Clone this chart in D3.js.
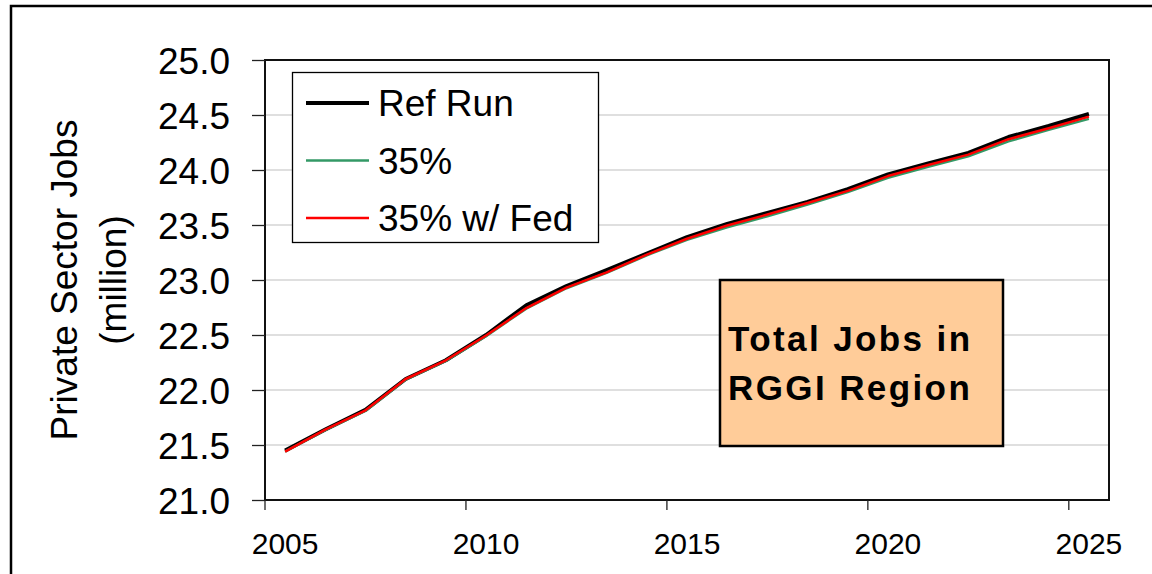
<!DOCTYPE html>
<html>
<head>
<meta charset="utf-8">
<script src="https://cdn.jsdelivr.net/npm/d3@7"></script>
<style>
  body { margin: 0; background: #fff; }
  svg { display: block; font-family: "Liberation Sans", Arial, sans-serif; }
</style>
</head>
<body>
<div id="app"></div>
<script>
// years on the category axis
const years = d3.range(2005, 2026);

// private sector jobs, million
const refRun = [21.45, 21.64, 21.82, 22.10, 22.27, 22.50, 22.77, 22.945, 23.09, 23.24, 23.39,
                23.51, 23.61, 23.71, 23.825, 23.96, 24.06, 24.155, 24.30, 24.40, 24.51];
const pct35 = [21.44, 21.635, 21.81, 22.095, 22.265, 22.49, 22.74, 22.925, 23.065, 23.225, 23.365,
               23.48, 23.58, 23.685, 23.80, 23.93, 24.03, 24.125, 24.26, 24.365, 24.465];
const pct35Fed = [21.44, 21.64, 21.815, 22.10, 22.27, 22.495, 22.745, 22.93, 23.07, 23.23, 23.375,
                  23.495, 23.595, 23.70, 23.81, 23.945, 24.045, 24.14, 24.28, 24.38, 24.485];

const yTicks = [21.0, 21.5, 22.0, 22.5, 23.0, 23.5, 24.0, 24.5, 25.0];
const xTickYears = [2005, 2010, 2015, 2020, 2025];

const series = [
  { name: 'Ref Run', values: refRun, color: '#000000', width: 4 },
  { name: '35%', values: pct35, color: '#339966', width: 2.5 },
  { name: '35% w/ Fed', values: pct35Fed, color: '#ff0000', width: 2.5 }
];

const W = 1152, H = 574;
const plot = { left: 265, right: 1109, top: 60, bottom: 500 };

const svg = d3.create('svg').attr('width', W).attr('height', H);

// outer chart border
svg.append('rect')
  .attr('x', 11).attr('y', 6).attr('width', W + 20).attr('height', H + 20)
  .attr('fill', 'none').attr('stroke', '#000').attr('stroke-width', 2.5);

const x = d3.scaleBand().domain(years).range([plot.left, plot.right]).padding(0);
const y = d3.scaleLinear().domain([21, 25]).range([plot.bottom, plot.top]);

// gridlines
svg.append('g')
  .selectAll('line')
  .data(yTicks.slice(1, -1))
  .join('line')
  .attr('x1', plot.left).attr('x2', plot.right)
  .attr('y1', d => y(d)).attr('y2', d => y(d))
  .attr('stroke', '#c0c0c0').attr('stroke-width', 1.2);

// plot frame
svg.append('rect')
  .attr('x', plot.left).attr('y', plot.top)
  .attr('width', plot.right - plot.left).attr('height', plot.bottom - plot.top)
  .attr('fill', 'none').attr('stroke', '#111').attr('stroke-width', 2);

// y axis
const yAxis = d3.axisLeft(y).tickValues(yTicks).tickFormat(d3.format('.1f')).tickSize(13).tickPadding(22);
svg.append('g')
  .attr('transform', `translate(${plot.left},0)`)
  .call(yAxis)
  .call(g => g.select('.domain').remove())
  .call(g => g.selectAll('line').attr('stroke', '#222').attr('stroke-width', 1.3))
  .call(g => g.selectAll('text')
    .attr('font-size', 37).attr('fill', '#000')
    .attr('font-family', '"Liberation Sans", Arial, sans-serif')
    .attr('dy', '0.36em'));

// x axis: ticks sit between categories, labels at category centres
svg.append('g')
  .selectAll('line')
  .data(xTickYears)
  .join('line')
  .attr('x1', d => x(d)).attr('x2', d => x(d))
  .attr('y1', plot.bottom).attr('y2', plot.bottom + 10)
  .attr('stroke', '#222').attr('stroke-width', 1.3);

svg.append('g')
  .selectAll('text')
  .data(xTickYears)
  .join('text')
  .attr('x', d => x(d) + x.bandwidth() / 2)
  .attr('y', 554)
  .attr('text-anchor', 'middle')
  .attr('font-size', 30)
  .text(d => d);

// axis title
const title = svg.append('text')
  .attr('transform', 'translate(77,280) rotate(-90)')
  .attr('text-anchor', 'middle')
  .attr('font-size', 37);
title.append('tspan').attr('x', 0).attr('y', 0).text('Private Sector Jobs');
title.append('tspan').attr('x', 0).attr('y', 49).text('(million)');

// lines
const line = d3.line()
  .x((d, i) => x(years[i]) + x.bandwidth() / 2)
  .y(d => y(d));

svg.append('g')
  .selectAll('path')
  .data(series)
  .join('path')
  .attr('d', d => line(d.values))
  .attr('fill', 'none')
  .attr('stroke', d => d.color)
  .attr('stroke-width', d => d.width)
  .attr('stroke-linejoin', 'round');

// legend
const legend = svg.append('g');
legend.append('rect')
  .attr('x', 292.5).attr('y', 72.5).attr('width', 306).attr('height', 170)
  .attr('fill', '#fff').attr('stroke', '#000').attr('stroke-width', 1.3);

const rows = legend.selectAll('g')
  .data(series)
  .join('g')
  .attr('transform', (d, i) => `translate(0,${103 + i * 57.5})`);
rows.append('line')
  .attr('x1', 306).attr('x2', 369)
  .attr('stroke', d => d.color)
  .attr('stroke-width', d => d.width === 4 ? 4 : 2.5);
rows.append('text')
  .attr('x', 378).attr('y', 13)
  .attr('font-size', 37)
  .text(d => d.name);

// annotation box
const note = svg.append('g');
note.append('rect')
  .attr('x', 720).attr('y', 280).attr('width', 283).attr('height', 166)
  .attr('fill', '#ffcc99').attr('stroke', '#000').attr('stroke-width', 2.5);
const noteText = note.append('text')
  .attr('font-size', 35).attr('font-weight', 'bold').attr('letter-spacing', 2.4);
noteText.append('tspan').attr('x', 728).attr('y', 351).text('Total Jobs in');
noteText.append('tspan').attr('x', 728).attr('y', 400).text('RGGI Region');

d3.select('#app').append(() => svg.node());
</script>
</body>
</html>
